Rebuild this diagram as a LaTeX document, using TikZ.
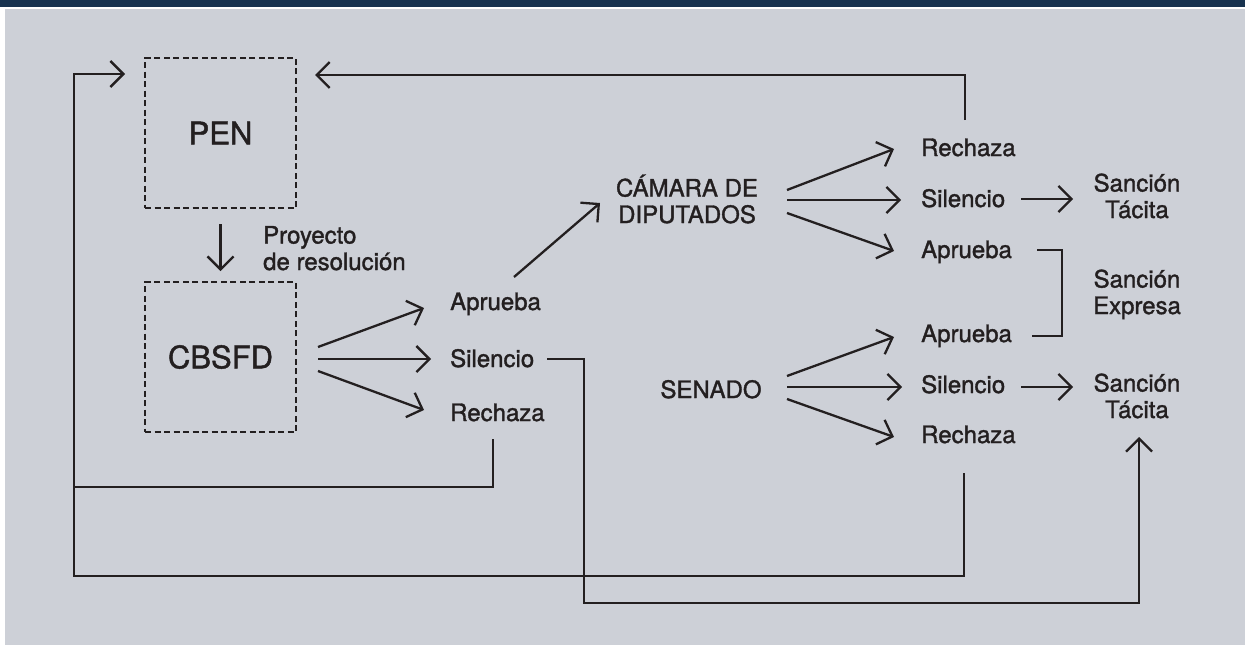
\documentclass[tikz,border=0pt]{standalone}
\usepackage{fontspec}
\setmainfont{TeX Gyre Heros}[FakeBold=1.4]
\usetikzlibrary{calc,arrows.meta}
\definecolor{bar}{HTML}{17324F}
\definecolor{bg}{HTML}{CDD0D7}
\definecolor{ink}{HTML}{231F20}
\tikzset{
  line/.style={draw=ink, line width=2.3pt},
  arr/.style={line, -{Straight Barb[length=13pt,width=26pt]}},
  box/.style={draw=ink, line width=2pt, dash pattern=on 6pt off 3.5pt, minimum width=151pt, minimum height=150pt, inner sep=0pt, text=ink, font=\fontsize{31}{36}\selectfont},
  lab/.style={text=ink, inner sep=0pt, font=\fontsize{24}{26.5}\selectfont},
}
\begin{document}
\begin{tikzpicture}[x=1pt,y=-1pt]
  % background and top band
  \fill[white] (0,0) rectangle (1245,645);
  \fill[bg] (5,9) rectangle (1245,645);
  \fill[bar] (0,0) rectangle (1245,7);
  \useasboundingbox (0,0) rectangle (1245,645);

  % boxes
  \node[box] (pen) at (220.5,133) {PEN};
  \node[box] (cbsfd) at (220.5,357) {CBSFD};
  \node[lab, anchor=base west, align=left] (proy) at (263,270) {Proyecto\\de resolución};

  % CBSFD outcomes
  \node[lab, anchor=base west] (cAp) at (450,310) {Aprueba};
  \node[lab, anchor=base west] (cSil) at (450,367) {Silencio};
  \node[lab, anchor=base west] (cRej) at (450,421) {Rechaza};

  % chambers
  \node[lab, anchor=base, align=center] (dip) at (687,223) {CÁMARA DE\\DIPUTADOS};
  \node[lab, anchor=base] (sen) at (711,398) {SENADO};

  % chamber outcomes
  \node[lab, anchor=base west] (dRej) at (921,156) {Rechaza};
  \node[lab, anchor=base west] (dSil) at (921,207) {Silencio};
  \node[lab, anchor=base west] (dAp) at (921,258) {Aprueba};
  \node[lab, anchor=base west] (sAp) at (921,342) {Aprueba};
  \node[lab, anchor=base west] (sSil) at (921,393) {Silencio};
  \node[lab, anchor=base west] (sRej) at (921,443) {Rechaza};

  % sanctions
  \node[lab, anchor=base, align=center] (tacA) at (1137,218) {Sanción\\Tácita};
  \node[lab, anchor=base, align=center] (expr) at (1137,314) {Sanción\\Expresa};
  \node[lab, anchor=base, align=center] (tacB) at (1137,418) {Sanción\\Tácita};

  % PEN -> CBSFD
  \draw[arr, shorten <=15pt, shorten >=10pt] (pen.south) -- (cbsfd.north);

  % CBSFD fan
  \draw[arr] ($(cbsfd.east)+(21,-10)$) -- ($(cAp.base west)+(-26,-2)$);
  \draw[arr] ($(cbsfd.east)+(21,2)$) -- ($(cSil.base west)+(-19,-8)$);
  \draw[arr] ($(cbsfd.east)+(21,14)$) -- ($(cRej.base west)+(-26,-11)$);
  \draw[arr] ($(cAp.base west)+(64,-33)$) -- ($(dip.base)+(-87,-20)$);

  % chamber fans
  \draw[arr] ($(dip.base)+(100,-33)$) -- ($(dRej.base west)+(-27,-7)$);
  \draw[arr] ($(dip.base)+(100,-23)$) -- ($(dSil.base west)+(-20,-7)$);
  \draw[arr] ($(dip.base)+(100,-10)$) -- ($(dAp.base west)+(-27,-7)$);
  \draw[arr] ($(sen.base)+(76,-22)$) -- ($(sAp.base west)+(-27,-5)$);
  \draw[arr] ($(sen.base)+(76,-11)$) -- ($(sSil.base west)+(-19,-6)$);
  \draw[arr] ($(sen.base)+(76,1)$) -- ($(sRej.base west)+(-27,-6)$);

  % sanctions
  \draw[arr] ($(dSil.base west)+(100,-8)$) -- ($(tacA.base)+(-64,-19)$);
  \draw[arr] ($(sSil.base west)+(100,-6)$) -- ($(tacB.base)+(-64,-31)$);
  \draw[line] ($(dAp.base west)+(116,-8)$) -- ++(25,0) |- ($(sAp.base west)+(111,-6)$);

  % return loops
  \draw[arr] ($(dRej.base west)+(44,-36)$) |- ($(pen.north east)+(18,18)$);
  \draw[arr] ($(cRej.base west)+(43,18)$) -- ++(0,48) -| ($(pen.north west)+(-70,17)$) -- ($(pen.north west)+(-19,17)$);
  \draw[line] ($(sRej.base west)+(43,30)$) |- ($(pen.north west)+(-70,519)$) -- ++(0,-90);
  \draw[arr] ($(cSil.base west)+(97,-8)$) -- ++(37,0) -- ++(0,244) -| ($(tacB.base)+(2,19)$);
\end{tikzpicture}
\end{document}
